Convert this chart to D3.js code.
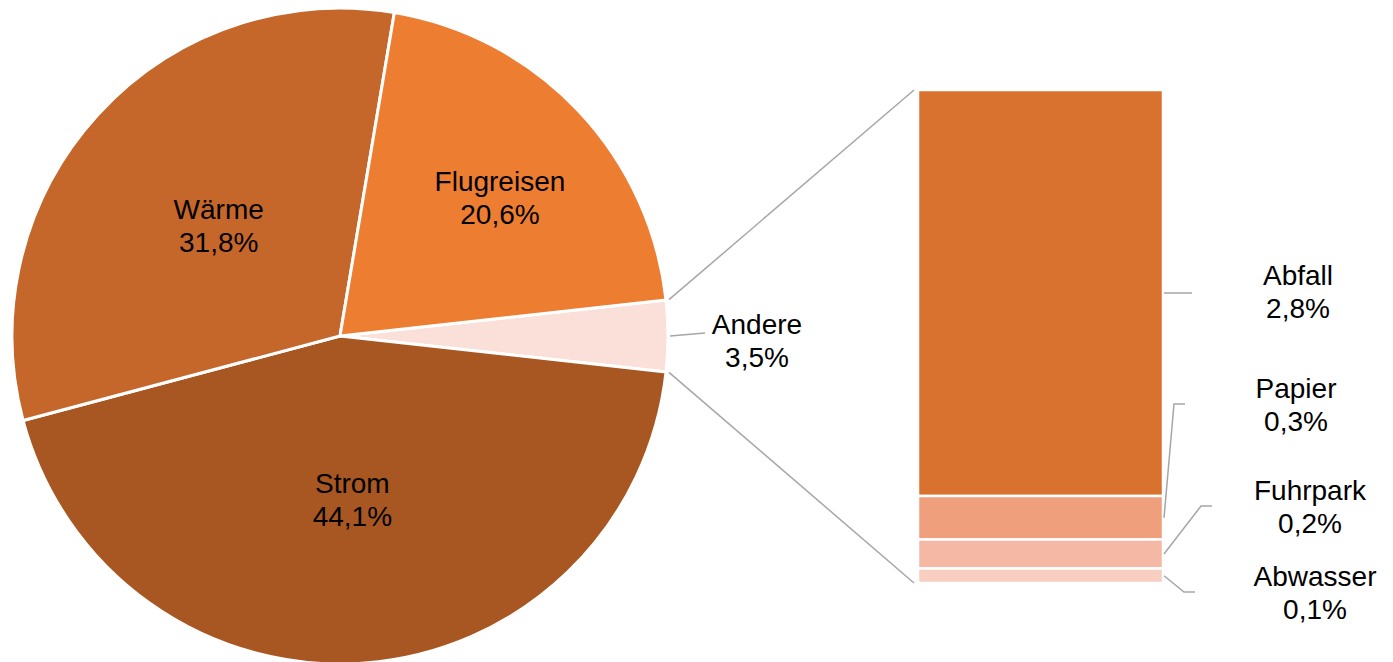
<!DOCTYPE html>
<html>
	<head>
		<meta http-equiv="Content-Type" content="text/html;charset=utf-8"/>
		<title>Emissionen</title>
		<script src="https://d3js.org/d3.v7.min.js"></script>
		<style type="text/css">
			body {
				margin: 0;
				background: #fff;
			}
			text {
				font-family: "Liberation Sans", Arial, sans-serif;
				font-size: 28px;
				fill: #000;
			}
			.leader {
				fill: none;
				stroke: #A6A6A6;
				stroke-width: 1.5;
			}
		</style>
	</head>
	<body>
		<script type="text/javascript">

			//Pie data (share in %)
			var pieNames = ["Andere", "Strom", "Wärme", "Flugreisen"];
			var pieValues = [3.5, 44.1, 31.8, 20.6];
			var pieColors = ["#FBE0D9", "#A85722", "#C5672B", "#ED7D31"];

			//Breakdown of "Andere" (share in %), top to bottom
			var barNames = ["Abfall", "Papier", "Fuhrpark", "Abwasser"];
			var barValues = [2.8, 0.3, 0.2, 0.1];
			var barColors = ["#D9722F", "#F09F7D", "#F4B8A4", "#F8CEC1"];

			var fmt = function(v) { return v.toFixed(1).replace(".", ",") + "%"; };

			var w = 1393,
				h = 662,
				cx = 340,
				cy = 336,
				R = 328;

			var svg = d3.select("body").append("svg")
						.attr("width", w)
						.attr("height", h);

			//Pie, "Andere" centred on the right side
			var andereShare = pieValues[0] / d3.sum(pieValues);
			var start = Math.PI / 2 - andereShare * Math.PI;

			var pie = d3.pie()
						.sort(null)
						.startAngle(start)
						.endAngle(start + 2 * Math.PI);

			var arcs = pie(pieValues);

			var arc = d3.arc().innerRadius(0).outerRadius(R);

			var g = svg.append("g").attr("transform", "translate(" + cx + "," + cy + ")");

			g.selectAll("path.slice")
				.data(arcs)
				.enter()
				.append("path")
				.attr("class", "slice")
				.attr("d", arc)
				.attr("fill", function(d, i) { return pieColors[i]; })
				.attr("stroke", "#fff")
				.attr("stroke-width", 3)
				.attr("stroke-linejoin", "round");

			//Pie labels inside the slices (radius factor, angle shift)
			var labelR = [0, 0.5, 0.5, 0.645];
			var labelShift = [0, 0, 0, 2.5 * Math.PI / 180];
			arcs.forEach(function(d, i) {
				if (i === 0) return;
				var a = (d.startAngle + d.endAngle) / 2 + labelShift[i],
					r = labelR[i] * R,
					x = r * Math.sin(a),
					y = -r * Math.cos(a);
				var t = g.append("text").attr("text-anchor", "middle");
				t.append("tspan").attr("x", x).attr("y", y - 6.5).text(pieNames[i]);
				t.append("tspan").attr("x", x).attr("y", y + 26.5).text(fmt(pieValues[i]));
			});

			//"Andere" label with leader
			var aMid = (arcs[0].startAngle + arcs[0].endAngle) / 2;
			g.append("path")
				.attr("class", "leader")
				.attr("d", d3.line()([
					[(R + 2) * Math.sin(aMid), -(R + 2) * Math.cos(aMid)],
					[365, -3]
				]));
			var ta = g.append("text").attr("text-anchor", "middle");
			ta.append("tspan").attr("x", 417).attr("y", 4.5 - 6.5).text(pieNames[0]);
			ta.append("tspan").attr("x", 417).attr("y", 4.5 + 26.5).text(fmt(pieValues[0]));

			//Stacked bar for the breakdown, stacked from the top
			var bx = 918,
				bw = 245,
				bTop = 90,
				bBottom = 583;

			var yScale = d3.scaleLinear()
							.domain([0, d3.sum(barValues)])
							.range([bTop, bBottom]);

			var stack = [];
			var acc = 0;
			barValues.forEach(function(v, i) {
				stack.push({ name: barNames[i], value: v, y0: acc, y1: acc + v, color: barColors[i] });
				acc += v;
			});

			//Connector lines from the pie to the bar
			[arcs[0].startAngle, arcs[0].endAngle].forEach(function(a, i) {
				var px = cx + (R + 3) * Math.sin(a),
					py = cy - (R + 3) * Math.cos(a);
				svg.append("path")
					.attr("class", "leader")
					.attr("d", d3.line()([[px, py], [bx - 4, i === 0 ? yScale(0) : yScale(d3.sum(barValues))]]));
			});

			svg.selectAll("rect.seg")
				.data(stack)
				.enter()
				.append("rect")
				.attr("class", "seg")
				.attr("x", bx)
				.attr("width", bw)
				.attr("y", function(d) { return yScale(d.y0); })
				.attr("height", function(d) { return yScale(d.y1) - yScale(d.y0); })
				.attr("fill", function(d) { return d.color; })
				.attr("stroke", "#fff")
				.attr("stroke-width", 2.5);

			//Bar labels: leader end x, label centre x/y
			var barLabelPos = [
				{ ex: 1192, lx: 1298, ly: 291 },
				{ ex: 1185, lx: 1296, ly: 404 },
				{ ex: 1212, lx: 1310, ly: 506 },
				{ ex: 1195, lx: 1315, ly: 592 }
			];

			stack.forEach(function(d, i) {
				var p = barLabelPos[i],
					sx = bx + bw + 1,
					sy = (yScale(d.y0) + yScale(d.y1)) / 2,
					pts = Math.abs(sy - p.ly) < 3 ? [[sx, sy], [p.ex, sy]] : [[sx, sy], [p.ex - 11, p.ly], [p.ex, p.ly]];
				svg.append("path")
					.attr("class", "leader")
					.attr("d", d3.line()(pts));
				var t = svg.append("text").attr("text-anchor", "middle");
				t.append("tspan").attr("x", p.lx).attr("y", p.ly - 6.5).text(d.name);
				t.append("tspan").attr("x", p.lx).attr("y", p.ly + 26.5).text(fmt(d.value));
			});

		</script>
	</body>
</html>
